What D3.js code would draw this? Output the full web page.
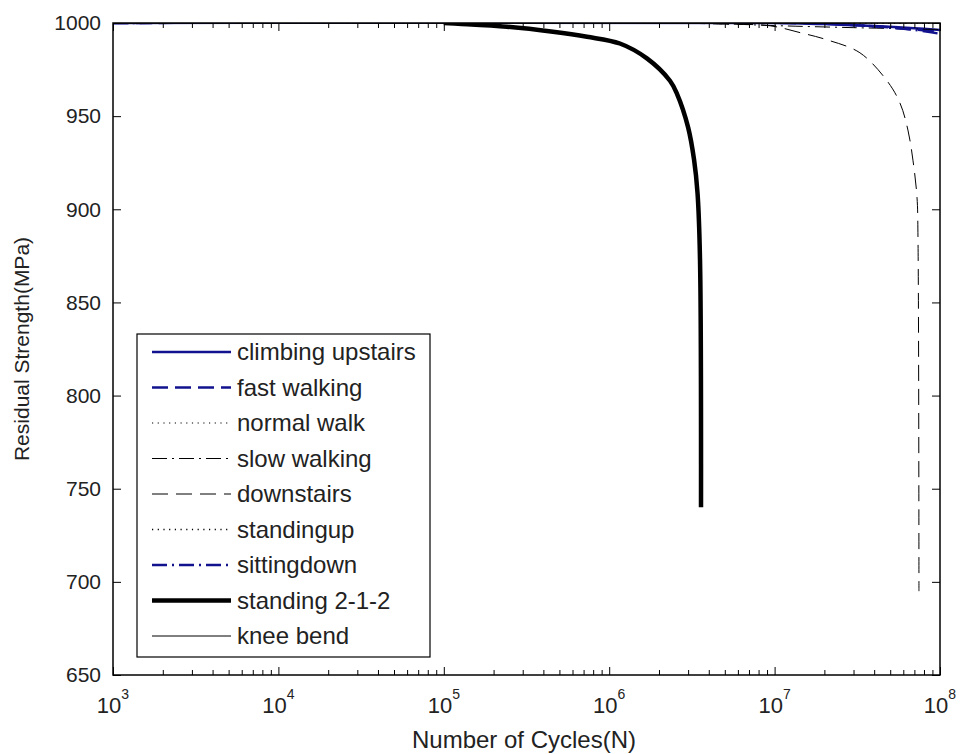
<!DOCTYPE html>
<html>
<head>
<meta charset="utf-8">
<script src="https://cdnjs.cloudflare.com/ajax/libs/d3/7.8.5/d3.min.js"></script>
<style>
  body { margin: 0; background: #fff; }
  svg { display: block; font-family: "Liberation Sans", Arial, sans-serif; }
</style>
</head>
<body>
<svg width="960" height="754"></svg>
<script>
var width = 960;
var height = 754;

// axis ticks
var decades = [1e3, 1e4, 1e5, 1e6, 1e7, 1e8];
var yTicks = [650, 700, 750, 800, 850, 900, 950, 1000];

// [cycles N, residual strength MPa]
var climbingUpstairs = [[1e3, 1000], [1e7, 1000], [2e7, 999.4], [4e7, 998.4], [7e7, 997.2], [1e8, 996.2]];
var fastWalking = [[1e3, 1000], [1.2e7, 1000], [3e7, 998.9], [6e7, 997], [1e8, 995.2]];
var normalWalk = [[1e3, 1000], [1e8, 1000]];
var slowWalking = [[1e3, 1000], [3e6, 1000], [6e6, 999.3], [1e7, 998.6], [3e7, 997.5], [1e8, 996.5]];
var downstairs = [[1e3, 1000], [2e6, 1000], [5e6, 999.4], [9.4e6, 998.5], [1.43e7, 994.8], [2.07e7, 991],
   [3.28e7, 984], [4.78e7, 969], [5.73e7, 957], [6.4e7, 942.5], [6.87e7, 926], [7.26e7, 906.5],
   [7.36e7, 885], [7.46e7, 695]];
var standingUp = [[1e3, 1000], [1e8, 1000]];
var sittingDown = [[1e3, 1000], [1.5e7, 1000], [4e7, 998.2], [7e7, 996.3], [1e8, 994.2]];
var standing212 = [[1e5, 1000], [1.22e5, 999.6], [2.41e5, 998], [4.57e5, 995.3], [7.34e5, 992.6],
   [1.16e6, 989], [1.69e6, 981], [2.33e6, 969], [2.57e6, 962], [3.0e6, 944], [3.26e6, 926.5],
   [3.42e6, 908.7], [3.54e6, 873], [3.59e6, 740]];
var kneeBend = [[1e3, 1000], [1e8, 1000]];

var blue = '#12128e';

var series = [
   { name: 'climbing upstairs', data: climbingUpstairs, color: blue, w: 2.5, dash: null },
   { name: 'fast walking', data: fastWalking, color: blue, w: 2.5, dash: '16,7' },
   { name: 'normal walk', data: normalWalk, color: '#000', w: 1, dash: '1.2,4.5' },
   { name: 'slow walking', data: slowWalking, color: '#000', w: 1, dash: '15,5,2,5' },
   { name: 'downstairs', data: downstairs, color: '#000', w: 1, dash: '16,8' },
   { name: 'standingup', data: standingUp, color: '#000', w: 1.3, dash: '1.2,4.5' },
   { name: 'sittingdown', data: sittingDown, color: blue, w: 2.5, dash: '15,5,2,5' },
   { name: 'standing 2-1-2', data: standing212, color: '#000', w: 4.5, dash: null },
   { name: 'knee bend', data: kneeBend, color: '#000', w: 1, dash: null }
];

var pLeft = 113, pRight = 940, pTop = 23, pBottom = 675;

var x = d3.scaleLog().domain([1e3, 1e8]).range([pLeft, pRight]);
var y = d3.scaleLinear().domain([650, 1000]).range([pBottom, pTop]);

var svg = d3.select('svg');

svg.append('defs').append('clipPath')
   .attr('id', 'plot-clip')
   .append('rect')
   .attr('x', pLeft)
   .attr('y', pTop)
   .attr('width', pRight - pLeft)
   .attr('height', pBottom - pTop);

svg.append('rect')
   .attr('x', pLeft)
   .attr('y', pTop)
   .attr('width', pRight - pLeft)
   .attr('height', pBottom - pTop)
   .attr('fill', '#fff');

var line = d3.line()
   .x(function(d) { return x(d[0]); })
   .y(function(d) { return y(d[1]); })
   .curve(d3.curveCatmullRom.alpha(0.5));

var curves = svg.append('g').attr('clip-path', 'url(#plot-clip)');

curves.selectAll('path')
   .data(series)
   .enter()
   .append('path')
   .attr('d', function(d) { return line(d.data); })
   .attr('fill', 'none')
   .attr('stroke', function(d) { return d.color; })
   .attr('stroke-width', function(d) { return d.w; })
   .attr('stroke-dasharray', function(d) { return d.dash; });

// minor ticks from the log scale itself
var minor = x.ticks().filter(function(v) { return decades.indexOf(v) < 0; });

function styleAxis(g) {
   g.select('.domain').remove();
   g.selectAll('line').attr('stroke', '#000').attr('stroke-width', 1);
   g.selectAll('text').attr('fill', '#222').style('font-size', '21px').style('font-family', '"Liberation Sans", Arial, sans-serif');
}

// bottom
svg.append('g').attr('transform', 'translate(0,' + pBottom + ')')
   .call(d3.axisBottom(x).tickValues(decades).tickSize(-8).tickFormat(''))
   .call(styleAxis);
svg.append('g').attr('transform', 'translate(0,' + pBottom + ')')
   .call(d3.axisBottom(x).tickValues(minor).tickSize(-5).tickFormat(''))
   .call(styleAxis);
// top
svg.append('g').attr('transform', 'translate(0,' + pTop + ')')
   .call(d3.axisTop(x).tickValues(decades).tickSize(-8).tickFormat(''))
   .call(styleAxis);
svg.append('g').attr('transform', 'translate(0,' + pTop + ')')
   .call(d3.axisTop(x).tickValues(minor).tickSize(-5).tickFormat(''))
   .call(styleAxis);
// left
svg.append('g').attr('transform', 'translate(' + pLeft + ',0)')
   .call(d3.axisLeft(y).tickValues(yTicks).tickSize(-8).tickPadding(12).tickFormat(d3.format('d')))
   .call(styleAxis);
// right
svg.append('g').attr('transform', 'translate(' + pRight + ',0)')
   .call(d3.axisRight(y).tickValues(yTicks).tickSize(-8).tickFormat(''))
   .call(styleAxis);

// x labels 10^n
var xl = svg.append('g').selectAll('text')
   .data(decades)
   .enter()
   .append('text')
   .attr('x', function(d) { return x(d); })
   .attr('y', 713)
   .attr('text-anchor', 'middle')
   .attr('fill', '#222')
   .style('font-size', '22px');
xl.append('tspan').text('10');
xl.append('tspan')
   .attr('dy', -14)
   .style('font-size', '14px')
   .text(function(d) { return Math.round(Math.log10(d)); });

// frame
svg.append('rect')
   .attr('x', pLeft)
   .attr('y', pTop)
   .attr('width', pRight - pLeft)
   .attr('height', pBottom - pTop)
   .attr('fill', 'none')
   .attr('stroke', '#000')
   .attr('stroke-width', 1.5);

// axis titles
svg.append('text')
   .attr('x', 524)
   .attr('y', 748)
   .attr('text-anchor', 'middle')
   .attr('fill', '#222')
   .style('font-size', '24px')
   .text('Number of Cycles(N)');

svg.append('text')
   .attr('transform', 'translate(29,' + ((pTop + pBottom) / 2) + ') rotate(-90)')
   .attr('text-anchor', 'middle')
   .attr('fill', '#222')
   .style('font-size', '21px')
   .text('Residual Strength(MPa)');

// legend
var lg = svg.append('g');
lg.append('rect')
   .attr('x', 137)
   .attr('y', 334)
   .attr('width', 293)
   .attr('height', 323)
   .attr('fill', '#fff')
   .attr('stroke', '#000')
   .attr('stroke-width', 1.2);

var row = lg.selectAll('g.row')
   .data(series)
   .enter()
   .append('g')
   .attr('class', 'row')
   .attr('transform', function(d, i) { return 'translate(0,' + (352 + i * 35.5) + ')'; });

row.append('line')
   .attr('x1', 152)
   .attr('x2', 231)
   .attr('stroke', function(d) { return d.color; })
   .attr('stroke-width', function(d) { return d.w; })
   .attr('stroke-dasharray', function(d) { return d.dash; });

row.append('text')
   .attr('x', 237)
   .attr('dy', '0.35em')
   .attr('fill', '#222')
   .style('font-size', '24px')
   .text(function(d) { return d.name; });
</script>
</body>
</html>
